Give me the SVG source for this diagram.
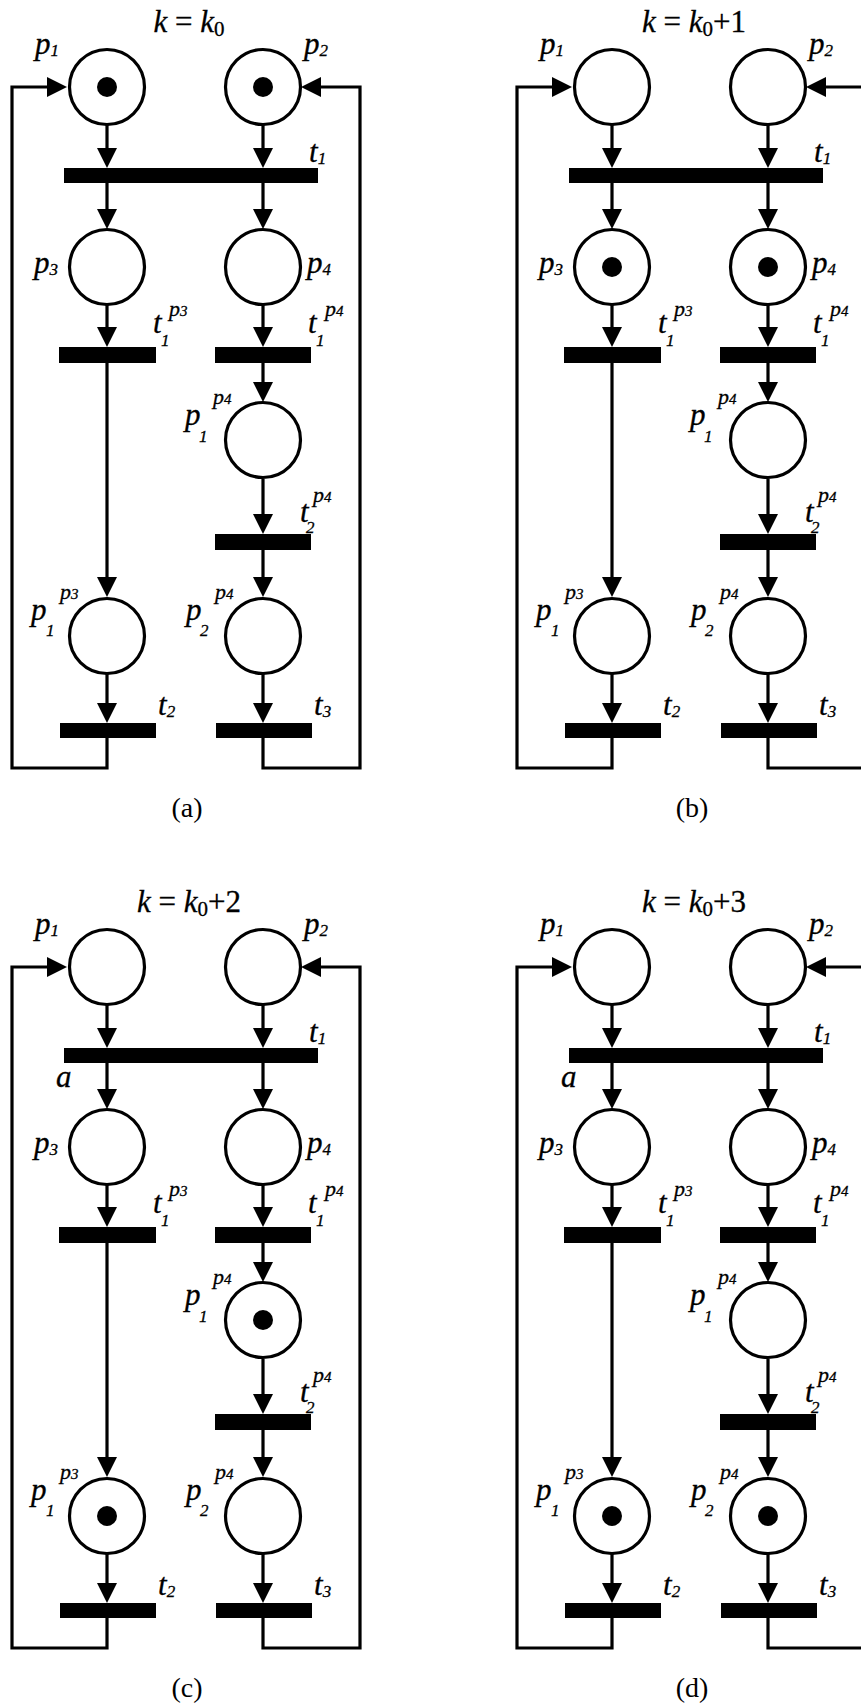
<svg xmlns="http://www.w3.org/2000/svg" width="861" height="1708" viewBox="0 0 861 1708">
<style>
.pl{fill:#fff;stroke:#000;stroke-width:3.2}
.tk{fill:#000}
.tr{fill:#000}
.cn{fill:none;stroke:#000;stroke-width:3.2;stroke-linejoin:miter;marker-end:url(#ah)}
.lb{font-family:"Liberation Serif","Times New Roman",serif;font-style:italic;font-size:31px;fill:#000;stroke:#000;stroke-width:0.3}
.sb{font-size:17px}
.sp{font-size:22px}
.sd{font-size:15px}
.ttl{font-family:"Liberation Serif","Times New Roman",serif;font-size:31px;fill:#000;stroke:#000;stroke-width:0.3}
.cap{font-family:"Liberation Serif","Times New Roman",serif;font-size:28px;fill:#000}
</style>
<defs>
<marker id="ah" viewBox="0 0 20 20" refX="12" refY="10" markerWidth="20" markerHeight="20" markerUnits="userSpaceOnUse" orient="auto"><path d="M0,0 L20,10 L0,20 z" fill="#000"/></marker>
</defs>
<rect width="861" height="1708" fill="#fff"/>
<g id="connectors">
<g id="conn-a">
<path class="cn" d="M107,125 V160"/><path class="cn" d="M263,125 V160"/>
<path class="cn" d="M107,183 V221"/><path class="cn" d="M263,183 V221"/>
<path class="cn" d="M107,305 V339"/><path class="cn" d="M263,305 V339"/>
<path class="cn" d="M107,363 V589"/><path class="cn" d="M263,363 V394"/>
<path class="cn" d="M263,479 V526"/><path class="cn" d="M263,550 V589"/>
<path class="cn" d="M107,674 V715"/><path class="cn" d="M263,674 V715"/>
<path class="cn" d="M107,738 V768 H12 V87 H59"/><path class="cn" d="M263,738 V768 H360 V87 H309"/>
</g>
<g id="conn-b" transform="translate(505,0)">
<path class="cn" d="M107,125 V160"/><path class="cn" d="M263,125 V160"/>
<path class="cn" d="M107,183 V221"/><path class="cn" d="M263,183 V221"/>
<path class="cn" d="M107,305 V339"/><path class="cn" d="M263,305 V339"/>
<path class="cn" d="M107,363 V589"/><path class="cn" d="M263,363 V394"/>
<path class="cn" d="M263,479 V526"/><path class="cn" d="M263,550 V589"/>
<path class="cn" d="M107,674 V715"/><path class="cn" d="M263,674 V715"/>
<path class="cn" d="M107,738 V768 H12 V87 H59"/><path class="cn" d="M263,738 V768 H360 V87 H309"/>
</g>
<g id="conn-c" transform="translate(0,880)">
<path class="cn" d="M107,125 V160"/><path class="cn" d="M263,125 V160"/>
<path class="cn" d="M107,183 V221"/><path class="cn" d="M263,183 V221"/>
<path class="cn" d="M107,305 V339"/><path class="cn" d="M263,305 V339"/>
<path class="cn" d="M107,363 V589"/><path class="cn" d="M263,363 V394"/>
<path class="cn" d="M263,479 V526"/><path class="cn" d="M263,550 V589"/>
<path class="cn" d="M107,674 V715"/><path class="cn" d="M263,674 V715"/>
<path class="cn" d="M107,738 V768 H12 V87 H59"/><path class="cn" d="M263,738 V768 H360 V87 H309"/>
</g>
<g id="conn-d" transform="translate(505,880)">
<path class="cn" d="M107,125 V160"/><path class="cn" d="M263,125 V160"/>
<path class="cn" d="M107,183 V221"/><path class="cn" d="M263,183 V221"/>
<path class="cn" d="M107,305 V339"/><path class="cn" d="M263,305 V339"/>
<path class="cn" d="M107,363 V589"/><path class="cn" d="M263,363 V394"/>
<path class="cn" d="M263,479 V526"/><path class="cn" d="M263,550 V589"/>
<path class="cn" d="M107,674 V715"/><path class="cn" d="M263,674 V715"/>
<path class="cn" d="M107,738 V768 H12 V87 H59"/><path class="cn" d="M263,738 V768 H360 V87 H309"/>
</g>
</g>

<g id="panel-a">
<g id="a-title"><text class="ttl" x="189" y="32" text-anchor="middle"><tspan font-style="italic">k</tspan> = <tspan font-style="italic">k</tspan><tspan font-size="21" dy="4">0</tspan></text></g>
<g id="a-p1"><circle class="pl" cx="107" cy="87" r="37.5"/><circle class="tk" cx="107" cy="87" r="10"/><text class="lb" x="35" y="54">p<tspan class="sb" dy="2">1</tspan></text></g>
<g id="a-p2"><circle class="pl" cx="263" cy="87" r="37.5"/><circle class="tk" cx="263" cy="87" r="10"/><text class="lb" x="304" y="54">p<tspan class="sb" dy="2">2</tspan></text></g>
<g id="a-t1"><rect class="tr" x="64" y="168" width="254" height="15"/><text class="lb" x="309" y="162">t<tspan class="sb" dy="2">1</tspan></text></g>
<g id="a-p3"><circle class="pl" cx="107" cy="267" r="37.5"/><text class="lb" x="34" y="273">p<tspan class="sb" dy="2">3</tspan></text></g>
<g id="a-p4"><circle class="pl" cx="263" cy="267" r="37.5"/><text class="lb" x="307" y="273">p<tspan class="sb" dy="2">4</tspan></text></g>
<g id="a-t1p3"><rect class="tr" x="59" y="347" width="97" height="16"/><text class="lb" x="153" y="333">t</text><text class="lb sb" x="161" y="346">1</text><text class="lb sp" x="169" y="316">p<tspan class="sd">3</tspan></text></g>
<g id="a-t1p4"><rect class="tr" x="215" y="347" width="96" height="16"/><text class="lb" x="308" y="333">t</text><text class="lb sb" x="316" y="346">1</text><text class="lb sp" x="325" y="316">p<tspan class="sd">4</tspan></text></g>
<g id="a-p1p4"><circle class="pl" cx="263" cy="440" r="37.5"/><text class="lb" x="185" y="425">p</text><text class="lb sb" x="199" y="442">1</text><text class="lb sp" x="213" y="404">p<tspan class="sd">4</tspan></text></g>
<g id="a-t2p4"><rect class="tr" x="215" y="534" width="96" height="16"/><text class="lb" x="300" y="522">t</text><text class="lb sb" x="306" y="533">2</text><text class="lb sp" x="313" y="502">p<tspan class="sd">4</tspan></text></g>
<g id="a-p1p3"><circle class="pl" cx="107" cy="636" r="37.5"/><text class="lb" x="31" y="620">p</text><text class="lb sb" x="46" y="636">1</text><text class="lb sp" x="60" y="599">p<tspan class="sd">3</tspan></text></g>
<g id="a-p2p4"><circle class="pl" cx="263" cy="636" r="37.5"/><text class="lb" x="186" y="620">p</text><text class="lb sb" x="200" y="636">2</text><text class="lb sp" x="215" y="599">p<tspan class="sd">4</tspan></text></g>
<g id="a-t2"><rect class="tr" x="60" y="723" width="96" height="15"/><text class="lb" x="158" y="715">t<tspan class="sb" dy="2">2</tspan></text></g>
<g id="a-t3"><rect class="tr" x="216" y="723" width="96" height="15"/><text class="lb" x="314" y="715">t<tspan class="sb" dy="2">3</tspan></text></g>
<g id="a-caption"><text class="cap" x="187" y="817" text-anchor="middle">(a)</text></g>
</g>

<g id="panel-b" transform="translate(505,0)">
<g id="b-title"><text class="ttl" x="189" y="32" text-anchor="middle"><tspan font-style="italic">k</tspan> = <tspan font-style="italic">k</tspan><tspan font-size="21" dy="4">0</tspan><tspan dy="-4">+1</tspan></text></g>
<g id="b-p1"><circle class="pl" cx="107" cy="87" r="37.5"/><text class="lb" x="35" y="54">p<tspan class="sb" dy="2">1</tspan></text></g>
<g id="b-p2"><circle class="pl" cx="263" cy="87" r="37.5"/><text class="lb" x="304" y="54">p<tspan class="sb" dy="2">2</tspan></text></g>
<g id="b-t1"><rect class="tr" x="64" y="168" width="254" height="15"/><text class="lb" x="309" y="162">t<tspan class="sb" dy="2">1</tspan></text></g>
<g id="b-p3"><circle class="pl" cx="107" cy="267" r="37.5"/><circle class="tk" cx="107" cy="267" r="10"/><text class="lb" x="34" y="273">p<tspan class="sb" dy="2">3</tspan></text></g>
<g id="b-p4"><circle class="pl" cx="263" cy="267" r="37.5"/><circle class="tk" cx="263" cy="267" r="10"/><text class="lb" x="307" y="273">p<tspan class="sb" dy="2">4</tspan></text></g>
<g id="b-t1p3"><rect class="tr" x="59" y="347" width="97" height="16"/><text class="lb" x="153" y="333">t</text><text class="lb sb" x="161" y="346">1</text><text class="lb sp" x="169" y="316">p<tspan class="sd">3</tspan></text></g>
<g id="b-t1p4"><rect class="tr" x="215" y="347" width="96" height="16"/><text class="lb" x="308" y="333">t</text><text class="lb sb" x="316" y="346">1</text><text class="lb sp" x="325" y="316">p<tspan class="sd">4</tspan></text></g>
<g id="b-p1p4"><circle class="pl" cx="263" cy="440" r="37.5"/><text class="lb" x="185" y="425">p</text><text class="lb sb" x="199" y="442">1</text><text class="lb sp" x="213" y="404">p<tspan class="sd">4</tspan></text></g>
<g id="b-t2p4"><rect class="tr" x="215" y="534" width="96" height="16"/><text class="lb" x="300" y="522">t</text><text class="lb sb" x="306" y="533">2</text><text class="lb sp" x="313" y="502">p<tspan class="sd">4</tspan></text></g>
<g id="b-p1p3"><circle class="pl" cx="107" cy="636" r="37.5"/><text class="lb" x="31" y="620">p</text><text class="lb sb" x="46" y="636">1</text><text class="lb sp" x="60" y="599">p<tspan class="sd">3</tspan></text></g>
<g id="b-p2p4"><circle class="pl" cx="263" cy="636" r="37.5"/><text class="lb" x="186" y="620">p</text><text class="lb sb" x="200" y="636">2</text><text class="lb sp" x="215" y="599">p<tspan class="sd">4</tspan></text></g>
<g id="b-t2"><rect class="tr" x="60" y="723" width="96" height="15"/><text class="lb" x="158" y="715">t<tspan class="sb" dy="2">2</tspan></text></g>
<g id="b-t3"><rect class="tr" x="216" y="723" width="96" height="15"/><text class="lb" x="314" y="715">t<tspan class="sb" dy="2">3</tspan></text></g>
<g id="b-caption"><text class="cap" x="187" y="817" text-anchor="middle">(b)</text></g>
</g>

<g id="panel-c" transform="translate(0,880)">
<g id="c-title"><text class="ttl" x="189" y="32" text-anchor="middle"><tspan font-style="italic">k</tspan> = <tspan font-style="italic">k</tspan><tspan font-size="21" dy="4">0</tspan><tspan dy="-4">+2</tspan></text></g>
<g id="c-p1"><circle class="pl" cx="107" cy="87" r="37.5"/><text class="lb" x="35" y="54">p<tspan class="sb" dy="2">1</tspan></text></g>
<g id="c-p2"><circle class="pl" cx="263" cy="87" r="37.5"/><text class="lb" x="304" y="54">p<tspan class="sb" dy="2">2</tspan></text></g>
<g id="c-t1"><rect class="tr" x="64" y="168" width="254" height="15"/><text class="lb" x="309" y="162">t<tspan class="sb" dy="2">1</tspan></text><text class="lb" x="56" y="207">a</text></g>
<g id="c-p3"><circle class="pl" cx="107" cy="267" r="37.5"/><text class="lb" x="34" y="273">p<tspan class="sb" dy="2">3</tspan></text></g>
<g id="c-p4"><circle class="pl" cx="263" cy="267" r="37.5"/><text class="lb" x="307" y="273">p<tspan class="sb" dy="2">4</tspan></text></g>
<g id="c-t1p3"><rect class="tr" x="59" y="347" width="97" height="16"/><text class="lb" x="153" y="333">t</text><text class="lb sb" x="161" y="346">1</text><text class="lb sp" x="169" y="316">p<tspan class="sd">3</tspan></text></g>
<g id="c-t1p4"><rect class="tr" x="215" y="347" width="96" height="16"/><text class="lb" x="308" y="333">t</text><text class="lb sb" x="316" y="346">1</text><text class="lb sp" x="325" y="316">p<tspan class="sd">4</tspan></text></g>
<g id="c-p1p4"><circle class="pl" cx="263" cy="440" r="37.5"/><circle class="tk" cx="263" cy="440" r="10"/><text class="lb" x="185" y="425">p</text><text class="lb sb" x="199" y="442">1</text><text class="lb sp" x="213" y="404">p<tspan class="sd">4</tspan></text></g>
<g id="c-t2p4"><rect class="tr" x="215" y="534" width="96" height="16"/><text class="lb" x="300" y="522">t</text><text class="lb sb" x="306" y="533">2</text><text class="lb sp" x="313" y="502">p<tspan class="sd">4</tspan></text></g>
<g id="c-p1p3"><circle class="pl" cx="107" cy="636" r="37.5"/><circle class="tk" cx="107" cy="636" r="10"/><text class="lb" x="31" y="620">p</text><text class="lb sb" x="46" y="636">1</text><text class="lb sp" x="60" y="599">p<tspan class="sd">3</tspan></text></g>
<g id="c-p2p4"><circle class="pl" cx="263" cy="636" r="37.5"/><text class="lb" x="186" y="620">p</text><text class="lb sb" x="200" y="636">2</text><text class="lb sp" x="215" y="599">p<tspan class="sd">4</tspan></text></g>
<g id="c-t2"><rect class="tr" x="60" y="723" width="96" height="15"/><text class="lb" x="158" y="715">t<tspan class="sb" dy="2">2</tspan></text></g>
<g id="c-t3"><rect class="tr" x="216" y="723" width="96" height="15"/><text class="lb" x="314" y="715">t<tspan class="sb" dy="2">3</tspan></text></g>
<g id="c-caption"><text class="cap" x="187" y="817" text-anchor="middle">(c)</text></g>
</g>

<g id="panel-d" transform="translate(505,880)">
<g id="d-title"><text class="ttl" x="189" y="32" text-anchor="middle"><tspan font-style="italic">k</tspan> = <tspan font-style="italic">k</tspan><tspan font-size="21" dy="4">0</tspan><tspan dy="-4">+3</tspan></text></g>
<g id="d-p1"><circle class="pl" cx="107" cy="87" r="37.5"/><text class="lb" x="35" y="54">p<tspan class="sb" dy="2">1</tspan></text></g>
<g id="d-p2"><circle class="pl" cx="263" cy="87" r="37.5"/><text class="lb" x="304" y="54">p<tspan class="sb" dy="2">2</tspan></text></g>
<g id="d-t1"><rect class="tr" x="64" y="168" width="254" height="15"/><text class="lb" x="309" y="162">t<tspan class="sb" dy="2">1</tspan></text><text class="lb" x="56" y="207">a</text></g>
<g id="d-p3"><circle class="pl" cx="107" cy="267" r="37.5"/><text class="lb" x="34" y="273">p<tspan class="sb" dy="2">3</tspan></text></g>
<g id="d-p4"><circle class="pl" cx="263" cy="267" r="37.5"/><text class="lb" x="307" y="273">p<tspan class="sb" dy="2">4</tspan></text></g>
<g id="d-t1p3"><rect class="tr" x="59" y="347" width="97" height="16"/><text class="lb" x="153" y="333">t</text><text class="lb sb" x="161" y="346">1</text><text class="lb sp" x="169" y="316">p<tspan class="sd">3</tspan></text></g>
<g id="d-t1p4"><rect class="tr" x="215" y="347" width="96" height="16"/><text class="lb" x="308" y="333">t</text><text class="lb sb" x="316" y="346">1</text><text class="lb sp" x="325" y="316">p<tspan class="sd">4</tspan></text></g>
<g id="d-p1p4"><circle class="pl" cx="263" cy="440" r="37.5"/><text class="lb" x="185" y="425">p</text><text class="lb sb" x="199" y="442">1</text><text class="lb sp" x="213" y="404">p<tspan class="sd">4</tspan></text></g>
<g id="d-t2p4"><rect class="tr" x="215" y="534" width="96" height="16"/><text class="lb" x="300" y="522">t</text><text class="lb sb" x="306" y="533">2</text><text class="lb sp" x="313" y="502">p<tspan class="sd">4</tspan></text></g>
<g id="d-p1p3"><circle class="pl" cx="107" cy="636" r="37.5"/><circle class="tk" cx="107" cy="636" r="10"/><text class="lb" x="31" y="620">p</text><text class="lb sb" x="46" y="636">1</text><text class="lb sp" x="60" y="599">p<tspan class="sd">3</tspan></text></g>
<g id="d-p2p4"><circle class="pl" cx="263" cy="636" r="37.5"/><circle class="tk" cx="263" cy="636" r="10"/><text class="lb" x="186" y="620">p</text><text class="lb sb" x="200" y="636">2</text><text class="lb sp" x="215" y="599">p<tspan class="sd">4</tspan></text></g>
<g id="d-t2"><rect class="tr" x="60" y="723" width="96" height="15"/><text class="lb" x="158" y="715">t<tspan class="sb" dy="2">2</tspan></text></g>
<g id="d-t3"><rect class="tr" x="216" y="723" width="96" height="15"/><text class="lb" x="314" y="715">t<tspan class="sb" dy="2">3</tspan></text></g>
<g id="d-caption"><text class="cap" x="187" y="817" text-anchor="middle">(d)</text></g>
</g>
</svg>
